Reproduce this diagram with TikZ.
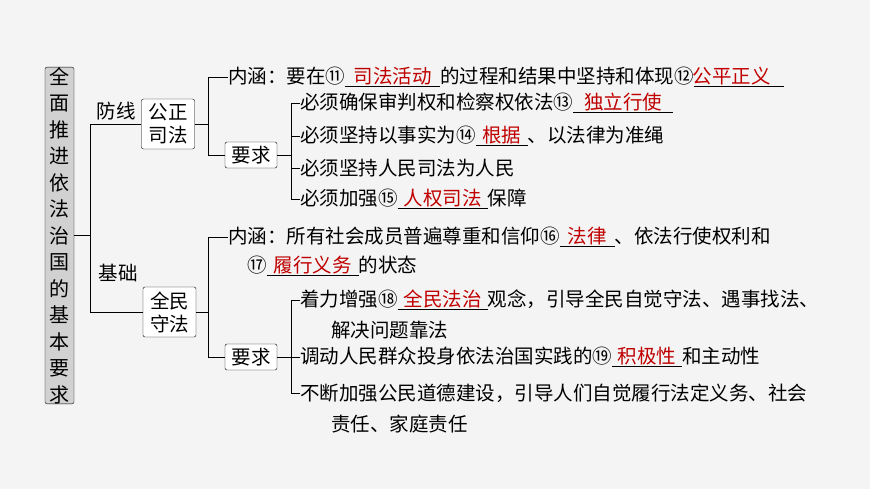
\documentclass[tikz,border=0pt]{standalone}
\usepackage{fontspec}
\setmainfont{Noto Sans CJK SC}
\definecolor{fillred}{HTML}{C00000}
\definecolor{bg}{HTML}{F4F4F4}
\newcommand\fillin[2]{\leavevmode\rlap{\rule[-3pt]{#1}{0.7pt}}\makebox[#1][c]{\textcolor{fillred}{#2}}}
\begin{document}
\begin{tikzpicture}[x=1pt,y=-1pt,
  every node/.style={font=\fontsize{19.5}{23}\selectfont, inner sep=0pt},
  box/.style={draw, rounded corners=2pt, fill=white, inner sep=3pt, align=center},
  ln/.style={anchor=west},
  conn/.style={line width=0.7pt}]
\fill[bg] (0,0) rectangle (870,489);
\useasboundingbox (0,0) rectangle (870,489);
\node[draw, rounded corners=2pt, fill=black!18, minimum width=29pt, minimum height=325pt, align=center, font=\fontsize{20}{26.5}\selectfont] (root) at (59.5,235.5) {全\\面\\推\\进\\依\\法\\治\\国\\的\\基\\本\\要\\求};
\node[box, minimum width=53pt, minimum height=50pt] (gz) at (168,124) {公正\\司法};
\node[box, minimum width=53pt, minimum height=50pt] (qm) at (169.5,312) {全民\\守法};
\node[anchor=south] (fx) at (116,120) {防线};
\node[anchor=south] (jc) at (118,282) {基础};
\coordinate (t1) at (90,124); \coordinate (t2) at (90,312);
\draw[conn] (root.east |- 0,235) -- (90,235);
\draw[conn] (gz.west) -- (t1) -- (t2) -- (qm.west);
% gongzheng
\node[ln] (n1) at (228,77) {内涵：要在⑪\fillin{95pt}{司法活动}的过程和结果中坚持和体现⑫\fillin{90pt}{公平正义\hspace{14pt}}};
\node[box, minimum width=52pt, minimum height=26pt] (y1) at (251,155) {要求};
\draw[conn] (gz.east) -- (208,124);
\draw[conn] (n1.west) -- (208,77) -- (208,155) -- (y1.west);
\node[ln] (a1) at (300,103) {必须确保审判权和检察权依法⑬\fillin{100pt}{独立行使}};
\node[ln] (a2) at (300,136) {必须坚持以事实为⑭\fillin{52pt}{根据}、以法律为准绳};
\node[ln] (a3) at (300,168) {必须坚持人民司法为人民};
\node[ln] (a4) at (300,199) {必须加强⑮\fillin{90pt}{人权司法}保障};
\draw[conn] (y1.east) -- (291,155);
\draw[conn] (a1.west) -- (291,103) -- (291,199) -- (a4.west);
\draw[conn] (a2.west) -- (291,136);
\draw[conn] (a3.west) -- (291,168);
% quanmin
\node[ln] (n2) at (228,237) {内涵：所有社会成员普遍尊重和信仰⑯\fillin{55pt}{法律}、依法行使权利和};
\node[ln] (n2b) at (247,266) {⑰\fillin{92pt}{履行义务}的状态};
\node[box, minimum width=52pt, minimum height=26pt] (y2) at (251,357) {要求};
\draw[conn] (qm.east) -- (208,312);
\draw[conn] (n2.west) -- (208,237) -- (208,357) -- (y2.west);
\node[ln] (b1) at (300,300) {着力增强⑱\fillin{90pt}{全民法治}观念，引导全民自觉守法、遇事找法、};
\node[ln] (b1b) at (331,330) {解决问题靠法};
\node[ln] (b2) at (300,357) {调动人民群众投身依法治国实践的⑲\fillin{70pt}{积极性}和主动性};
\node[ln] (b3) at (300,393) {不断加强公民道德建设，引导人们自觉履行法定义务、社会};
\node[ln] (b3b) at (331,424) {责任、家庭责任};
\draw[conn] (y2.east) -- (291,357);
\draw[conn] (b1.west) -- (291,300) -- (291,393) -- (b3.west);
\draw[conn] (b2.west) -- (291,357);
\end{tikzpicture}
\end{document}
